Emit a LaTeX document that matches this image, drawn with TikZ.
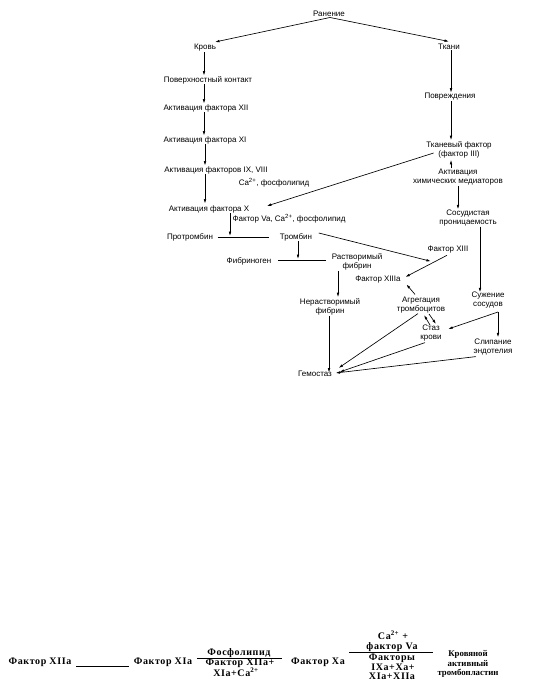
\documentclass[tikz,border=0pt]{standalone}
\usepackage{fontspec}
\setmainfont{Liberation Sans}
\newfontfamily\serifb[LetterSpace=6]{Liberation Serif}
\newfontfamily\serifc{Liberation Serif}
\usetikzlibrary{arrows.meta,calc}
\tikzset{
  lbl/.style={font=\fontsize{8}{8.6}\selectfont, inner sep=0.5pt, align=center},
  frm/.style={font=\serifb\bfseries\fontsize{10}{10}\selectfont, inner sep=0pt, align=center},
  frmc/.style={font=\serifc\bfseries\fontsize{8.8}{9.4}\selectfont, inner sep=0pt, align=center},
  arr/.style={-{Latex[length=4.5pt,width=2.6pt]}, line width=0.65pt},
  ln/.style={line width=0.65pt}
}
\begin{document}
\begin{tikzpicture}[x=1pt,y=-1pt]
\useasboundingbox (0,0) rectangle (534,698);
% left branch
\node[lbl] (ran) at (329,14) {Ранение};
\node[lbl] (krov) at (205,48) {Кровь};
\node[lbl] (pov) at (208,80) {Поверхностный контакт};
\node[lbl] (a12) at (206,108) {Активация фактора XII};
\node[lbl] (a11) at (205,140) {Активация фактора XI};
\node[lbl] (a9) at (216,170) {Активация факторов IX, VIII};
\node[lbl] (ca1) at (274,183) {Ca\textsuperscript{2+}, фосфолипид};
\node[lbl] (a10) at (209,209) {Активация фактора X};
\node[lbl] (va) at (289,219) {Фактор Va, Ca\textsuperscript{2+}, фосфолипид};
\node[lbl] (prot) at (190,237) {Протромбин};
\node[lbl] (trom) at (296,237) {Тромбин};
\node[lbl] (fibg) at (249,261) {Фибриноген};
\node[lbl] (rfib) at (357,262) {Растворимый\\фибрин};
\node[lbl] (nfib) at (330,307) {Нерастворимый\\фибрин};
\node[lbl] (gem) at (315,374) {Гемостаз};
% right branch
\node[lbl] (tk) at (449,47) {Ткани};
\node[lbl] (povr) at (450,97) {Повреждения};
\node[lbl] (tf) at (459,150) {Тканевый фактор\\(фактор III)};
\node[lbl] (ahm) at (458,177) {Активация\\химических медиаторов};
\node[lbl] (sos) at (468,218) {Сосудистая\\проницаемость};
\node[lbl] (f13) at (448,250) {Фактор XIII};
\node[lbl] (f13a) at (378,280) {Фактор XIIIa};
\node[lbl] (agr) at (421,305) {Агрегация\\тромбоцитов};
\node[lbl] (staz) at (431,333) {Стаз\\крови};
\node[lbl] (suz) at (488,300) {Сужение\\сосудов};
\node[lbl] (slip) at (493,347) {Слипание\\эндотелия};
% junctions
\coordinate (j1) at (230,237);
\coordinate (j2) at (298,260);
\coordinate (fl1) at (278,260);
\coordinate (fl2) at (326,260);
\coordinate (c1) at (498,312);
\coordinate (dA1) at (424,315);
\coordinate (dA2) at (430,325);
\coordinate (dB1) at (429,314);
\coordinate (dB2) at (436,324);

\draw[arr] ($(ran.south)+(1,0)$) -- (215,42);
\draw[arr] ($(ran.south)+(1,0)$) -- ($(tk.north)+(0,-2)$);
\draw[arr] (krov.south -| 204,0) -- (pov.north -| 204,0);
\draw[arr] (pov.south -| 204,0) -- (a12.north -| 204,0);
\draw[arr] (a12.south -| 204,0) -- (a11.north -| 204,0);
\draw[arr] (a11.south -| 205,0) -- (a9.north -| 205,0);
\draw[arr] (a9.south -| 205,0) -- ($(a10.north -| 205,0)+(0,-1)$);
\draw[arr] ($(tf.west)+(8,3)$) -- ($(a10.east)+(17,-3)$);
\draw[arr] (a10.south -| j1) -- ($(j1)+(0,-1)$);
\draw[ln] ($(prot.east)+(4,0)$) -- ($(trom.west)+(-10,0)$);
\draw[arr] (trom.south -| j2) -- ($(j2)+(0,-1)$);
\draw[ln] (fl1) -- (fl2);
\draw[arr] ($(trom.east)+(6,-4)$) -- ($(f13.south west)+(4,7)$);
\draw[arr] ($(f13.south)+(-1,1)$) -- ($(f13a.east)+(4,-3)$);
\draw[arr] ($(agr.north)+(-6,-2)$) -- ($(f13a.south east)+(5,0)$);
\draw[arr] (rfib.south -| 338,0) -- ($(nfib.north -| 338,0)+(0,-1)$);
\draw[arr] (nfib.south -| 329,0) -- ($(gem.north -| 329,0)+(0,2)$);
\draw[arr] ($(agr.south)+(-3,0)$) -- ($(gem.east)+(6,-6)$);
\draw[arr] ($(staz.south)+(-6,1)$) -- ($(gem.east)+(7,-2)$);
\draw[arr] ($(slip.south west)+(3,1)$) -- ($(gem.east)+(3,-1)$);
\draw[arr] (dA2) -- (dA1);
\draw[arr] (dB1) -- (dB2);
\draw[arr] (tk.south -| 451,0) -- (povr.north -| 451,0);
\draw[arr] (povr.south -| 451,0) -- ($(tf.north -| 451,0)+(0,-1)$);
\draw[arr] (ahm.north -| 451,0) -- ($(tf.south -| 451,0)+(0,1)$);
\draw[arr] (ahm.south -| 458,0) -- (sos.north -| 458,0);
\draw[arr] (sos.south -| 480,0) -- ($(suz.north -| 480,0)+(0,1)$);
\draw[arr] (c1) -- ($(staz.east)+(6,-4)$);
\draw[arr] (c1) -- ($(slip.north -| c1)+(0,-1)$);

% bottom formula
\node[frm] (f12a) at (40,662) {Фактор XIIa};
\node[frm] (f11a) at (163,662) {Фактор XIa};
\draw[ln] ($(f12a.south east)+(5,0)$) -- ($(f11a.south west)+(-5,0)$);
\node[frm] (n1) at (239,653) {Фосфолипид};
\node[frm] (d1) at (240,663) {Фактор XIIa+};
\node[frm] (d1b) at (236,672) {XIa+Ca\textsuperscript{2+}};
\draw[ln] (197,658) -- (282,658);
\node[frm] (fxa) at (318,662) {Фактор Xa};
\node[frm] (n2a) at (393,635) {Ca\textsuperscript{2+} +};
\node[frm] (n2b) at (392,647.5) {фактор Va};
\draw[ln] (349,652.5) -- (433,652.5);
\node[frm] (d2a) at (392,658) {Факторы};
\node[frm] (d2b) at (393,667) {IXa+Xa+};
\node[frm] (d2c) at (392,676) {XIa+XIIa};
\node[frmc] (ktp) at (468,664) {Кровяной\\активный\\тромбопластин};
\end{tikzpicture}
\end{document}
